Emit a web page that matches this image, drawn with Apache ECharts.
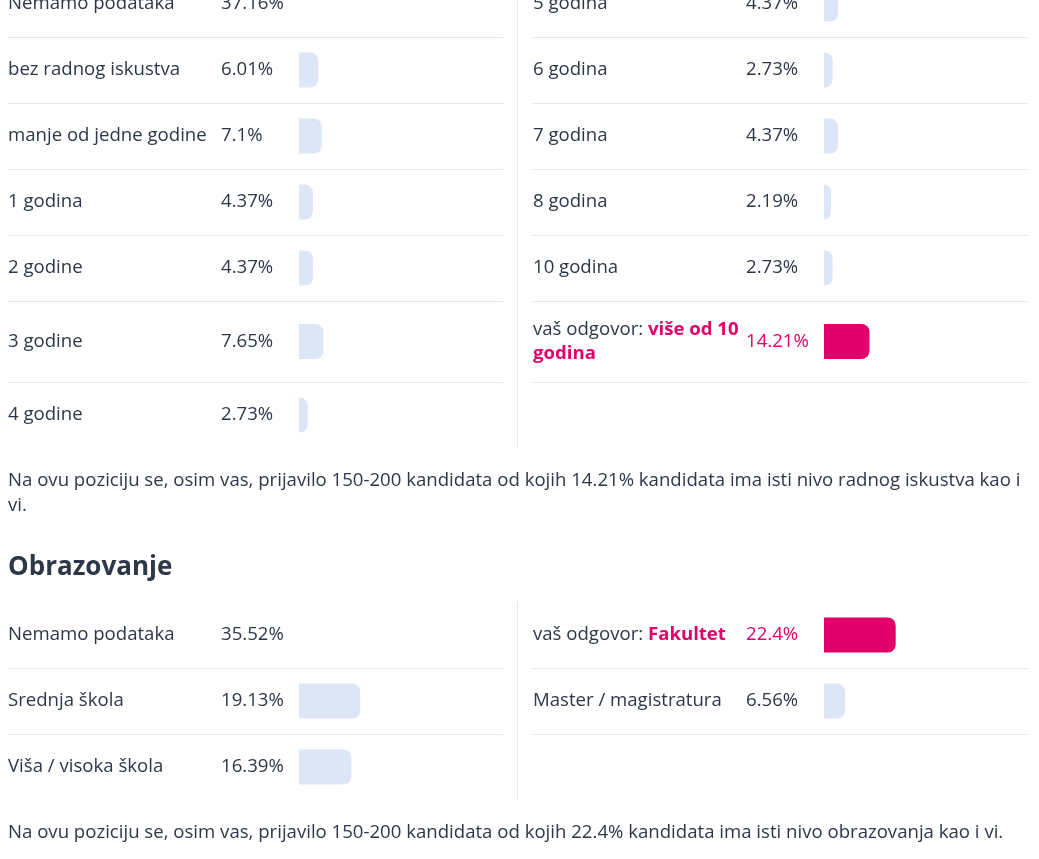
<!DOCTYPE html>
<html>
<head>
<meta charset="utf-8">
<script src="https://cdn.jsdelivr.net/npm/echarts@6/dist/echarts.min.js"></script>
<style>
  html, body { margin: 0; padding: 0; background: #fff; }
  #main { width: 1039px; height: 859px; }
</style>
</head>
<body>
<div id="main"></div>
<script>
// radno iskustvo
var expLabels = ['Nemamo podataka', 'bez radnog iskustva', 'manje od jedne godine', '1 godina', '2 godine',
                 '3 godine', '4 godine', '5 godina', '6 godina', '7 godina', '8 godina', '10 godina', 'više od 10 godina'];
var expValues = [37.16, 6.01, 7.1, 4.37, 4.37, 7.65, 2.73, 4.37, 2.73, 4.37, 2.19, 2.73, 14.21];
var expAnswer = 'više od 10 godina';

// obrazovanje
var eduLabels = ['Nemamo podataka', 'Srednja škola', 'Viša / visoka škola', 'Fakultet', 'Master / magistratura'];
var eduValues = [35.52, 19.13, 16.39, 22.4, 6.56];
var eduAnswer = 'Fakultet';

var noDataLabel = 'Nemamo podataka';   // taj red nema traku
var answerPrefix = 'vaš odgovor: ';
var eduTitle = 'Obrazovanje';

function summary(pct, what, breakLast) {
  return 'Na ovu poziciju se, osim vas, prijavilo 150-200 kandidata od kojih ' + pct +
    '% kandidata ima isti nivo ' + what + ' kao i' + (breakLast ? '\n' : ' ') + 'vi.';
}

var FONT = 'Open Sans';
var FS = 18.6;
var TEXT = '#2d3748', PINK = '#e2006a', BAR = '#dde6f7', LINE = '#e2e8f0';
var PX_PER = 3.2;              // px po 1%
var COL_X = [8, 533], COL_W = [495, 494];
var NAME_W = 213, BAR_OFF = 291, DIV_OFF = 14;

// prelamanje "vaš odgovor: ..." po riječima
var ctx = document.createElement('canvas').getContext('2d');
function textW(s, bold) {
  ctx.font = (bold ? 'bold ' : '') + FS + 'px "' + FONT + '"';
  return ctx.measureText(s).width;
}
function answerLabel(v) {
  var words = v.split(' ');
  var first = '', w = textW(answerPrefix, false);
  var k = 0;
  while (k < words.length) {
    var next = first ? first + ' ' + words[k] : words[k];
    if (w + textW(next, true) > NAME_W - 4) break;
    first = next; k++;
  }
  var rest = words.slice(k).join(' ');
  return '{g|' + answerPrefix + '}{b|' + first + '}' + (rest ? '\n{b|' + rest + '}' : '');
}

var grids = [], xAxes = [], yAxes = [], series = [];

function addSection(labels, values, answer, top, heights) {
  var half = Math.ceil(labels.length / 2);
  for (var i = 0; i < labels.length; i++) {
    var col = i < half ? 0 : 1;
    var row = col ? i - half : i;
    var y = top;
    for (var r = 0; r < row; r++) y += heights[r];
    var h = heights[row];
    var isAns = labels[i] === answer;
    var lastLeft = (col === 0 && i === half - 1);
    var g = grids.length;
    var off = col === 0 ? DIV_OFF : 0;

    grids.push({ left: COL_X[col], top: y, width: COL_W[col], height: h, containLabel: false, outerBoundsMode: 'none' });
    xAxes.push({
      type: 'value', gridIndex: g, position: 'bottom',
      min: -BAR_OFF / PX_PER, max: (COL_W[col] - BAR_OFF) / PX_PER,
      axisLine: { show: !lastLeft, lineStyle: { color: LINE, width: 1 } },
      axisTick: { show: false }, axisLabel: { show: false }, splitLine: { show: false }
    });
    // naziv
    yAxes.push({
      type: 'category', gridIndex: g, position: 'left', data: [labels[i]],
      axisLine: { show: false }, axisTick: { show: false }, splitLine: { show: false },
      axisLabel: isAns ? {
        inside: true, margin: 0, align: 'left', lineHeight: 24,
        formatter: answerLabel,
        rich: {
          g: { color: TEXT, fontFamily: FONT, fontSize: FS, lineHeight: 24 },
          b: { color: PINK, fontFamily: FONT, fontSize: FS, fontWeight: 'bold', lineHeight: 24 }
        }
      } : {
        inside: true, margin: 0, align: 'left', color: TEXT, fontFamily: FONT, fontSize: FS
      }
    });
    // postotak (+ okomita crta lijevog stupca)
    yAxes.push({
      type: 'category', gridIndex: g, position: 'right', offset: off, data: [values[i] + '%'],
      axisLine: { show: col === 0, lineStyle: { color: LINE, width: 1 } },
      axisTick: { show: false }, splitLine: { show: false },
      axisLabel: {
        inside: true, margin: COL_W[col] + off - NAME_W, align: 'left',
        color: isAns ? PINK : TEXT, fontFamily: FONT, fontSize: FS
      }
    });
    series.push({
      type: 'bar', xAxisIndex: g, yAxisIndex: 2 * g, silent: true, barWidth: 35,
      data: [labels[i] === noDataLabel ? null : values[i]],
      itemStyle: { color: isAns ? PINK : BAR, borderRadius: [0, 8, 8, 0] }
    });
  }
}

addSection(expLabels, expValues, expAnswer, -29, [66, 66, 66, 66, 66, 81, 66]);
addSection(eduLabels, eduValues, eduAnswer, 602, [66, 66, 66]);

var expPct = expValues[expLabels.indexOf(expAnswer)];
var eduPct = eduValues[eduLabels.indexOf(eduAnswer)];

var chart = echarts.init(document.getElementById('main'));
chart.setOption({
  animation: false,
  title: [
    { text: summary(expPct, 'radnog iskustva', true), left: 8, top: 468, padding: 0,
      textStyle: { color: TEXT, fontFamily: FONT, fontSize: FS, fontWeight: 'normal', lineHeight: 25 } },
    { text: eduTitle, left: 8, top: 552, padding: 0,
      textStyle: { color: TEXT, fontFamily: FONT, fontSize: 26, fontWeight: 'bold', lineHeight: 32 } },
    { text: summary(eduPct, 'obrazovanja', false), left: 8, top: 820, padding: 0,
      textStyle: { color: TEXT, fontFamily: FONT, fontSize: FS, fontWeight: 'normal', lineHeight: 25 } }
  ],
  grid: grids,
  xAxis: xAxes,
  yAxis: yAxes,
  series: series
});
</script>
</body>
</html>
